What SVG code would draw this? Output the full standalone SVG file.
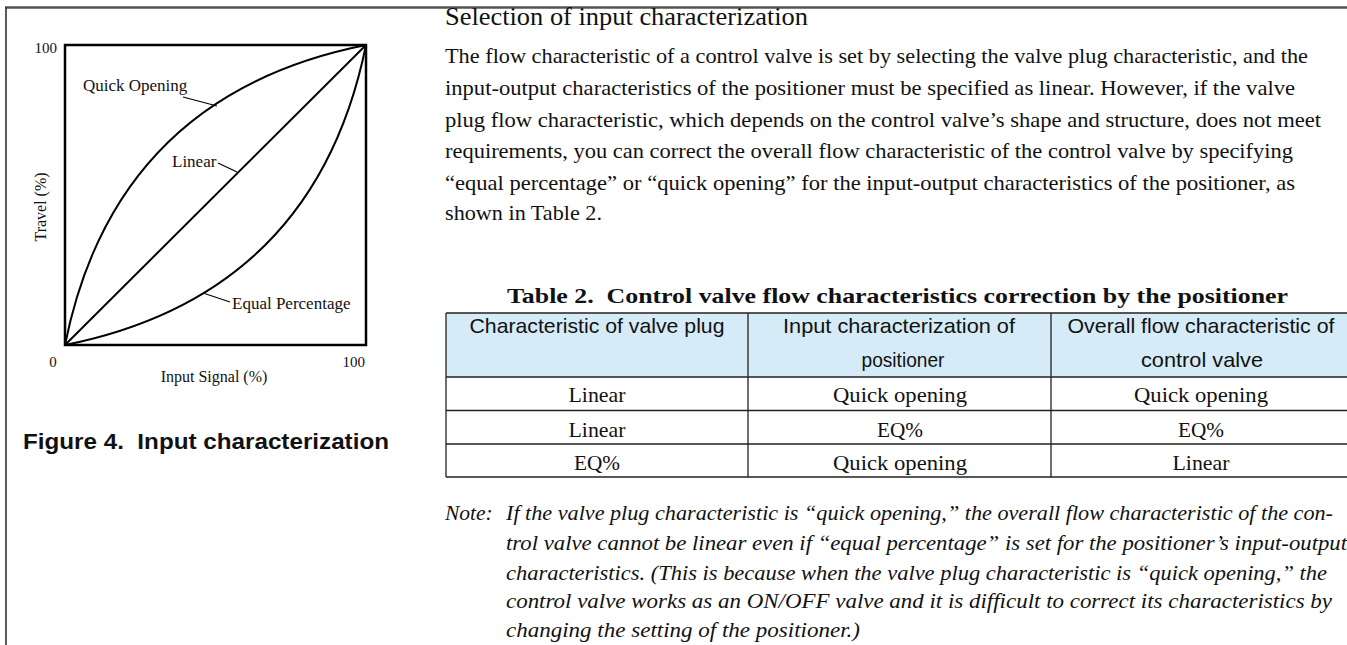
<svg xmlns="http://www.w3.org/2000/svg" width="1347" height="645" viewBox="0 0 1347 645">
<style>
.serif{font-family:"Liberation Serif","Times New Roman",serif;fill:#111}
.sans{font-family:"Liberation Sans",Arial,sans-serif;fill:#111}
.ax{font-size:15px}
.lab{font-size:17px}
.body{font-size:21.5px}
.hd{font-size:21px}
.cell{font-size:21px}
.note{font-size:21.5px;font-style:italic}
.curve{fill:none;stroke:#000;stroke-width:2}
.lead{fill:none;stroke:#000;stroke-width:1.2}
.tl{stroke:#222;stroke-width:1.3;fill:none}
</style>
<g id="frame">
<line x1="5" y1="7.5" x2="1347" y2="7.5" stroke="#555" stroke-width="2.5"/>
<line x1="6" y1="7" x2="6" y2="645" stroke="#333" stroke-width="1.6"/>
</g>
<g id="chart">
<rect x="65" y="45" width="301" height="300" fill="none" stroke="#000" stroke-width="2.5"/>
<path class="curve" d="M65,345 Q115,95 366,45"/>
<path class="curve" d="M65,345 L366,45"/>
<path class="curve" d="M65,345 Q315,295 366,45"/>
<text class="serif ax" x="57" y="53" text-anchor="end">100</text>
<text class="serif ax" x="53" y="367" text-anchor="middle">0</text>
<text class="serif ax" x="365" y="367" text-anchor="end">100</text>
<text class="serif ax" x="214" y="382" text-anchor="middle" style="font-size:16px">Input Signal (%)</text>
<text class="serif ax" transform="translate(46,207) rotate(-90)" text-anchor="middle" style="font-size:16px">Travel (%)</text>
</g>
<g id="label-quick">
<text class="serif lab" x="83" y="91">Quick Opening</text>
<line class="lead" x1="183" y1="97" x2="217" y2="106"/>
</g>
<g id="label-linear">
<text class="serif lab" x="172" y="167">Linear</text>
<line class="lead" x1="218" y1="163" x2="237" y2="172"/>
</g>
<g id="label-eq">
<text class="serif lab" x="232" y="309">Equal Percentage</text>
<line class="lead" x1="203" y1="293" x2="230" y2="302"/>
</g>
<g id="caption">
<text class="sans" x="23" y="449" style="font-size:22px;font-weight:bold" textLength="366" lengthAdjust="spacingAndGlyphs">Figure 4.&#160; Input characterization</text>
</g>
<g id="text">
<text class="serif" x="445" y="25" style="font-size:25px" textLength="363" lengthAdjust="spacingAndGlyphs">Selection of input characterization</text>
<text class="serif body" x="445" y="63" textLength="863" lengthAdjust="spacingAndGlyphs">The flow characteristic of a control valve is set by selecting the valve plug characteristic, and the</text>
<text class="serif body" x="445" y="95" textLength="850" lengthAdjust="spacingAndGlyphs">input-output characteristics of the positioner must be specified as linear. However, if the valve</text>
<text class="serif body" x="445" y="127" textLength="876" lengthAdjust="spacingAndGlyphs">plug flow characteristic, which depends on the control valve’s shape and structure, does not meet</text>
<text class="serif body" x="445" y="158" textLength="848" lengthAdjust="spacingAndGlyphs">requirements, you can correct the overall flow characteristic of the control valve by specifying</text>
<text class="serif body" x="445" y="190" textLength="850" lengthAdjust="spacingAndGlyphs">“equal percentage” or “quick opening” for the input-output characteristics of the positioner, as</text>
<text class="serif body" x="445" y="220" textLength="157" lengthAdjust="spacingAndGlyphs">shown in Table 2.</text>
</g>
<g id="table">
<text class="serif" x="507" y="303" style="font-size:22px;font-weight:bold" textLength="781" lengthAdjust="spacingAndGlyphs">Table 2.&#160; Control valve flow characteristics correction by the positioner</text>
<rect x="446" y="313" width="901" height="64" fill="#d5ebf8"/>
<path class="tl" d="M446,313 H1347 M446,377 H1347 M446,410.5 H1347 M446,444 H1347 M446,477 H1347 M446,313 V477 M748,313 V477 M1051,313 V477"/>
<text class="sans hd" x="597" y="333" text-anchor="middle" textLength="255" lengthAdjust="spacingAndGlyphs">Characteristic of valve plug</text>
<text class="sans hd" x="899" y="333" text-anchor="middle" textLength="232" lengthAdjust="spacingAndGlyphs">Input characterization of</text>
<text class="sans hd" x="903" y="367" text-anchor="middle" textLength="83" lengthAdjust="spacingAndGlyphs">positioner</text>
<text class="sans hd" x="1201" y="333" text-anchor="middle" textLength="267" lengthAdjust="spacingAndGlyphs">Overall flow characteristic of</text>
<text class="sans hd" x="1202" y="367" text-anchor="middle" textLength="122" lengthAdjust="spacingAndGlyphs">control valve</text>
<text class="serif cell" x="597" y="402" text-anchor="middle" textLength="57" lengthAdjust="spacingAndGlyphs">Linear</text>
<text class="serif cell" x="900" y="402" text-anchor="middle" textLength="134" lengthAdjust="spacingAndGlyphs">Quick opening</text>
<text class="serif cell" x="1201" y="402" text-anchor="middle" textLength="134" lengthAdjust="spacingAndGlyphs">Quick opening</text>
<text class="serif cell" x="597" y="437" text-anchor="middle" textLength="57" lengthAdjust="spacingAndGlyphs">Linear</text>
<text class="serif cell" x="900" y="437" text-anchor="middle" textLength="46" lengthAdjust="spacingAndGlyphs">EQ%</text>
<text class="serif cell" x="1201" y="437" text-anchor="middle" textLength="46" lengthAdjust="spacingAndGlyphs">EQ%</text>
<text class="serif cell" x="597" y="470" text-anchor="middle" textLength="46" lengthAdjust="spacingAndGlyphs">EQ%</text>
<text class="serif cell" x="900" y="470" text-anchor="middle" textLength="134" lengthAdjust="spacingAndGlyphs">Quick opening</text>
<text class="serif cell" x="1201" y="470" text-anchor="middle" textLength="57" lengthAdjust="spacingAndGlyphs">Linear</text>
</g>
<g id="note">
<text class="serif note" x="445" y="520">Note:</text>
<text class="serif note" x="506" y="520" textLength="827" lengthAdjust="spacingAndGlyphs">If the valve plug characteristic is “quick opening,” the overall flow characteristic of the con-</text>
<text class="serif note" x="506" y="550" textLength="841" lengthAdjust="spacingAndGlyphs">trol valve cannot be linear even if “equal percentage” is set for the positioner’s input-output</text>
<text class="serif note" x="506" y="580" textLength="821" lengthAdjust="spacingAndGlyphs">characteristics. (This is because when the valve plug characteristic is “quick opening,” the</text>
<text class="serif note" x="506" y="608" textLength="826" lengthAdjust="spacingAndGlyphs">control valve works as an ON/OFF valve and it is difficult to correct its characteristics by</text>
<text class="serif note" x="506" y="637" textLength="354" lengthAdjust="spacingAndGlyphs">changing the setting of the positioner.)</text>
</g>
</svg>
